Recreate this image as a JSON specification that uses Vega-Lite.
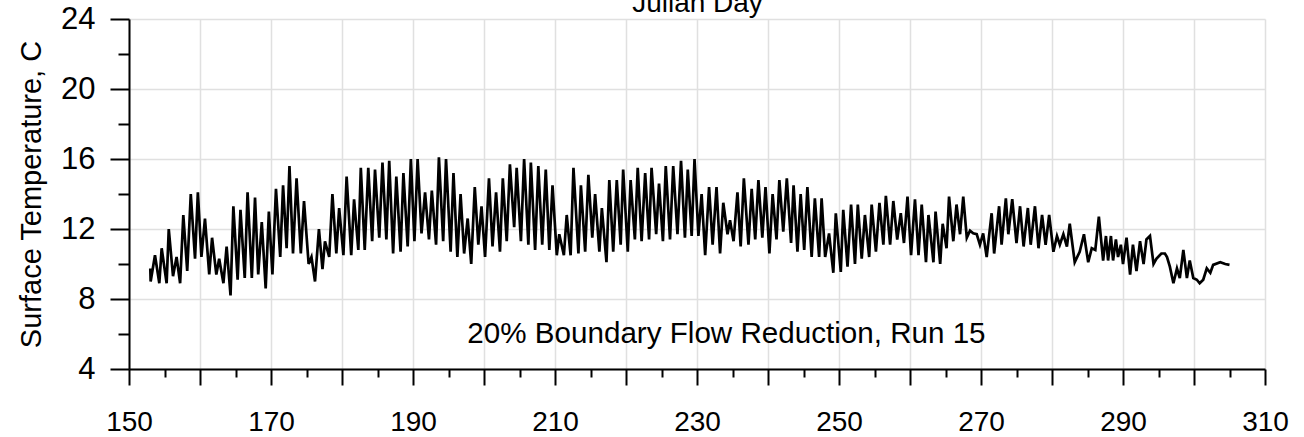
{
  "$schema": "https://vega.github.io/schema/vega-lite/v6.json",
  "width": 1136,
  "height": 350,
  "autosize": {"type": "none"},
  "padding": {"left": 129, "top": 19, "right": 39, "bottom": 68},
  "background": "white",
  "config": {
    "view": {"stroke": null},
    "font": "Liberation Sans",
    "axis": {
      "labelFont": "Liberation Sans",
      "titleFont": "Liberation Sans",
      "labelColor": "black",
      "titleColor": "black",
      "titleFontWeight": "normal",
      "domainColor": "black",
      "tickColor": "black",
      "gridColor": "#e0e0e0",
      "gridWidth": 1.5,
      "domainWidth": 2,
      "tickWidth": 2
    }
  },
  "datasets": {
    "temp": [
      {"d":153.0,"t":9.75},{"d":153.05,"t":9.0},{"d":153.66,"t":10.5},{"d":154.27,"t":8.9},{"d":154.6,"t":10.9},{"d":155.3,"t":8.9},{"d":155.6,"t":12.0},{"d":156.2,"t":9.3},{"d":156.7,"t":10.4},{"d":157.2,"t":8.9},
      {"d":157.65,"t":12.8},{"d":158.2,"t":9.6},{"d":158.7,"t":14.0},{"d":159.3,"t":10.3},{"d":159.7,"t":14.1},{"d":160.2,"t":10.4},{"d":160.7,"t":12.6},{"d":161.3,"t":9.4},{"d":161.7,"t":11.5},{"d":162.3,"t":9.4},
      {"d":162.7,"t":10.3},{"d":163.3,"t":8.9},{"d":163.75,"t":11.0},{"d":164.3,"t":8.2},{"d":164.7,"t":13.3},{"d":165.3,"t":9.1},{"d":165.7,"t":13.1},{"d":166.3,"t":9.2},{"d":166.7,"t":14.1},{"d":167.3,"t":9.2},
      {"d":167.75,"t":13.8},{"d":168.2,"t":9.4},{"d":168.7,"t":12.4},{"d":169.25,"t":8.6},{"d":169.7,"t":13.0},{"d":170.2,"t":9.4},{"d":170.7,"t":14.3},{"d":171.3,"t":10.4},{"d":171.7,"t":14.5},{"d":172.2,"t":10.9},
      {"d":172.6,"t":15.6},{"d":173.1,"t":10.6},{"d":173.6,"t":14.9},{"d":174.2,"t":10.6},{"d":174.65,"t":13.6},{"d":175.3,"t":10.0},{"d":175.7,"t":10.4},{"d":176.2,"t":9.0},{"d":176.75,"t":12.0},{"d":177.25,"t":9.7},
      {"d":177.6,"t":11.3},{"d":178.2,"t":10.4},{"d":178.65,"t":14.0},{"d":179.2,"t":10.6},{"d":179.6,"t":13.2},{"d":180.2,"t":10.5},{"d":180.65,"t":15.0},{"d":181.3,"t":10.5},{"d":181.7,"t":13.7},{"d":182.3,"t":10.8},
      {"d":182.65,"t":15.5},{"d":183.2,"t":10.8},{"d":183.7,"t":15.5},{"d":184.25,"t":11.3},{"d":184.65,"t":15.4},{"d":185.25,"t":11.5},{"d":185.7,"t":15.8},{"d":186.25,"t":11.4},{"d":186.65,"t":15.9},{"d":187.2,"t":10.6},
      {"d":187.65,"t":15.0},{"d":188.25,"t":10.7},{"d":188.65,"t":15.2},{"d":189.25,"t":11.0},{"d":189.7,"t":16.0},{"d":190.2,"t":11.3},{"d":190.65,"t":16.0},{"d":191.2,"t":11.75},{"d":191.7,"t":14.1},{"d":192.25,"t":11.4},
      {"d":192.65,"t":14.2},{"d":193.25,"t":11.1},{"d":193.65,"t":16.1},{"d":194.25,"t":11.3},{"d":194.65,"t":16.0},{"d":195.3,"t":10.7},{"d":195.7,"t":15.2},{"d":196.25,"t":10.4},{"d":196.7,"t":14.0},{"d":197.2,"t":10.6},
      {"d":197.7,"t":12.6},{"d":198.2,"t":10.0},{"d":198.7,"t":14.4},{"d":199.2,"t":11.1},{"d":199.65,"t":13.3},{"d":200.15,"t":10.4},{"d":200.7,"t":14.9},{"d":201.2,"t":11.0},{"d":201.7,"t":14.1},{"d":202.25,"t":10.7},
      {"d":202.65,"t":14.9},{"d":203.2,"t":11.3},{"d":203.65,"t":15.7},{"d":204.25,"t":12.1},{"d":204.6,"t":15.5},{"d":205.2,"t":11.3},{"d":205.65,"t":16.0},{"d":206.25,"t":11.1},{"d":206.6,"t":15.8},{"d":207.2,"t":10.8},
      {"d":207.65,"t":15.6},{"d":208.2,"t":11.1},{"d":208.7,"t":15.4},{"d":209.2,"t":10.8},{"d":209.65,"t":14.5},{"d":210.25,"t":10.5},{"d":210.6,"t":11.7},{"d":211.25,"t":10.5},{"d":211.65,"t":12.8},{"d":212.2,"t":10.5},
      {"d":212.6,"t":15.5},{"d":213.3,"t":10.6},{"d":213.65,"t":14.5},{"d":214.25,"t":10.7},{"d":214.7,"t":15.1},{"d":215.25,"t":11.5},{"d":215.65,"t":14.0},{"d":216.25,"t":10.7},{"d":216.6,"t":13.2},{"d":217.25,"t":10.1},
      {"d":217.65,"t":14.8},{"d":218.2,"t":10.7},{"d":218.7,"t":14.8},{"d":219.25,"t":11.1},{"d":219.6,"t":15.4},{"d":220.25,"t":10.7},{"d":220.65,"t":14.8},{"d":221.25,"t":11.4},{"d":221.65,"t":15.5},{"d":222.2,"t":11.3},
      {"d":222.7,"t":15.2},{"d":223.25,"t":11.4},{"d":223.6,"t":15.5},{"d":224.25,"t":11.7},{"d":224.65,"t":14.6},{"d":225.2,"t":11.3},{"d":225.6,"t":15.6},{"d":226.2,"t":11.4},{"d":226.65,"t":15.6},{"d":227.25,"t":11.7},
      {"d":227.75,"t":15.9},{"d":228.3,"t":11.5},{"d":228.7,"t":15.4},{"d":229.25,"t":11.6},{"d":229.65,"t":16.0},{"d":230.2,"t":11.6},{"d":230.65,"t":14.0},{"d":231.15,"t":10.5},{"d":231.7,"t":14.4},{"d":232.2,"t":11.1},
      {"d":232.75,"t":14.4},{"d":233.25,"t":10.6},{"d":233.7,"t":13.5},{"d":234.3,"t":11.7},{"d":234.65,"t":12.5},{"d":235.15,"t":11.3},{"d":235.7,"t":14.1},{"d":236.15,"t":11.0},{"d":236.6,"t":14.9},{"d":237.25,"t":11.1},
      {"d":237.7,"t":14.3},{"d":238.2,"t":11.4},{"d":238.65,"t":14.8},{"d":239.2,"t":11.5},{"d":239.65,"t":14.4},{"d":240.2,"t":10.6},{"d":240.65,"t":14.0},{"d":241.2,"t":11.4},{"d":241.6,"t":14.8},{"d":242.15,"t":11.85},
      {"d":242.65,"t":14.9},{"d":243.25,"t":11.2},{"d":243.6,"t":14.5},{"d":244.15,"t":10.7},{"d":244.6,"t":14.0},{"d":245.1,"t":10.8},{"d":245.55,"t":14.4},{"d":246.15,"t":10.4},{"d":246.6,"t":13.75},{"d":247.2,"t":10.4},
      {"d":247.55,"t":13.75},{"d":248.05,"t":10.4},{"d":248.6,"t":11.75},{"d":249.2,"t":9.5},{"d":249.55,"t":12.9},{"d":250.25,"t":9.55},{"d":250.6,"t":13.1},{"d":251.2,"t":9.85},{"d":251.7,"t":13.4},{"d":252.25,"t":10.0},
      {"d":252.65,"t":13.4},{"d":253.2,"t":10.3},{"d":253.65,"t":12.8},{"d":254.25,"t":10.4},{"d":254.6,"t":13.4},{"d":255.2,"t":10.7},{"d":255.7,"t":13.5},{"d":256.25,"t":11.1},{"d":256.6,"t":13.9},{"d":257.2,"t":11.1},
      {"d":257.65,"t":13.6},{"d":258.2,"t":11.4},{"d":258.7,"t":12.9},{"d":259.15,"t":11.2},{"d":259.65,"t":13.85},{"d":260.15,"t":10.5},{"d":260.7,"t":13.7},{"d":261.2,"t":10.5},{"d":261.65,"t":13.4},{"d":262.25,"t":10.1},
      {"d":262.6,"t":12.8},{"d":263.3,"t":10.1},{"d":263.6,"t":13.0},{"d":264.25,"t":10.0},{"d":264.6,"t":12.3},{"d":265.15,"t":10.9},{"d":265.5,"t":13.85},{"d":266.1,"t":11.3},{"d":266.55,"t":13.4},{"d":267.05,"t":11.7},
      {"d":267.5,"t":13.85},{"d":268.0,"t":11.5},{"d":268.45,"t":11.9},{"d":268.9,"t":11.75},{"d":269.4,"t":11.7},{"d":269.85,"t":11.1},{"d":270.3,"t":11.75},{"d":270.8,"t":10.4},{"d":271.5,"t":12.9},{"d":271.85,"t":10.6},
      {"d":272.55,"t":13.3},{"d":272.9,"t":11.1},{"d":273.5,"t":13.75},{"d":273.85,"t":11.7},{"d":274.4,"t":13.7},{"d":275.0,"t":11.2},{"d":275.5,"t":13.3},{"d":276.0,"t":11.0},{"d":276.6,"t":13.2},{"d":277.0,"t":11.1},
      {"d":277.6,"t":13.3},{"d":278.1,"t":10.9},{"d":278.6,"t":12.8},{"d":279.1,"t":11.1},{"d":279.6,"t":12.8},{"d":280.2,"t":10.7},{"d":280.7,"t":11.6},{"d":281.1,"t":11.1},{"d":281.6,"t":11.7},{"d":282.1,"t":11.0},
      {"d":282.5,"t":12.3},{"d":283.2,"t":10.1},{"d":283.9,"t":10.7},{"d":284.5,"t":11.7},{"d":285.1,"t":10.1},{"d":285.6,"t":10.9},{"d":286.1,"t":10.8},{"d":286.6,"t":12.7},{"d":287.2,"t":10.2},{"d":287.6,"t":11.6},
      {"d":287.9,"t":10.2},{"d":288.3,"t":11.6},{"d":288.6,"t":10.2},{"d":289.0,"t":11.4},{"d":289.3,"t":10.4},{"d":289.7,"t":11.1},{"d":290.0,"t":10.0},{"d":290.5,"t":11.5},{"d":291.0,"t":9.4},{"d":291.4,"t":11.1},
      {"d":291.9,"t":9.6},{"d":292.4,"t":11.3},{"d":292.9,"t":10.0},{"d":293.3,"t":11.4},{"d":293.8,"t":11.6},{"d":294.3,"t":10.0},{"d":294.7,"t":10.3},{"d":295.4,"t":10.6},{"d":295.9,"t":10.6},{"d":296.2,"t":10.4},
      {"d":296.6,"t":9.85},{"d":297.1,"t":8.9},{"d":297.6,"t":9.75},{"d":298.0,"t":9.2},{"d":298.5,"t":10.8},{"d":299.0,"t":9.2},{"d":299.4,"t":10.2},{"d":299.9,"t":9.2},{"d":300.4,"t":9.1},{"d":300.8,"t":8.9},
      {"d":301.3,"t":9.1},{"d":301.8,"t":9.75},{"d":302.3,"t":9.5},{"d":302.7,"t":9.95},{"d":303.7,"t":10.1},{"d":304.4,"t":10.0},{"d":305.0,"t":9.95}
    ]
  },
  "resolve": {"axis": {"x": "independent", "y": "independent"}},
  "layer": [
    {
      "data": {"name": "temp"},
      "mark": {"type": "line", "color": "black", "strokeWidth": 2.7, "strokeJoin": "miter"},
      "encoding": {
        "x": {
          "field": "d", "type": "quantitative",
          "scale": {"domain": [150, 310], "nice": false, "zero": false},
          "axis": {
            "orient": "bottom",
            "values": [150, 160, 170, 180, 190, 200, 210, 220, 230, 240, 250, 260, 270, 280, 290, 300, 310],
            "tickSize": 16,
            "labelExpr": "datum.value % 20 == 10 ? datum.label : ''",
            "labelFontSize": 28,
            "labelPadding": 23,
            "labelFlush": false,
            "labelOverlap": false,
            "grid": true,
            "title": null
          }
        },
        "y": {
          "field": "t", "type": "quantitative",
          "scale": {"domain": [4, 24], "nice": false, "zero": false},
          "axis": {
            "orient": "left",
            "values": [4, 8, 12, 16, 20, 24],
            "tickSize": 19,
            "labelFontSize": 31,
            "labelPadding": 15,
            "labelFlush": false,
            "labelOverlap": false,
            "grid": true,
            "title": "Surface Temperature, C",
            "titleFontSize": 29,
            "titlePadding": 14
          }
        }
      }
    },
    {
      "data": {"name": "temp"},
      "mark": {"type": "point", "opacity": 0},
      "encoding": {
        "x": {
          "field": "d", "type": "quantitative",
          "axis": {
            "orient": "bottom",
            "values": [155, 165, 175, 185, 195, 205, 215, 225, 235, 245, 255, 265, 275, 285, 295, 305],
            "tickSize": 8,
            "labels": false,
            "domain": false,
            "grid": false,
            "title": null
          }
        },
        "y": {
          "field": "t", "type": "quantitative",
          "axis": {
            "orient": "left",
            "values": [6, 10, 14, 18, 22],
            "tickSize": 11,
            "labels": false,
            "domain": false,
            "grid": false,
            "title": null
          }
        }
      }
    },
    {
      "data": {"values": [{"label": "20% Boundary Flow Reduction, Run 15"}]},
      "mark": {"type": "text", "fontSize": 29.6, "font": "Liberation Sans", "color": "black", "align": "center", "baseline": "alphabetic"},
      "encoding": {
        "text": {"field": "label"},
        "x": {
          "datum": 234.15, "type": "quantitative",
          "axis": {
            "orient": "top",
            "domain": false,
            "ticks": false,
            "labels": false,
            "grid": false,
            "title": "Julian Day",
            "titleFontSize": 28,
            "titlePadding": 2
          }
        },
        "y": {"datum": 5.5, "type": "quantitative", "axis": null}
      }
    }
  ]
}
